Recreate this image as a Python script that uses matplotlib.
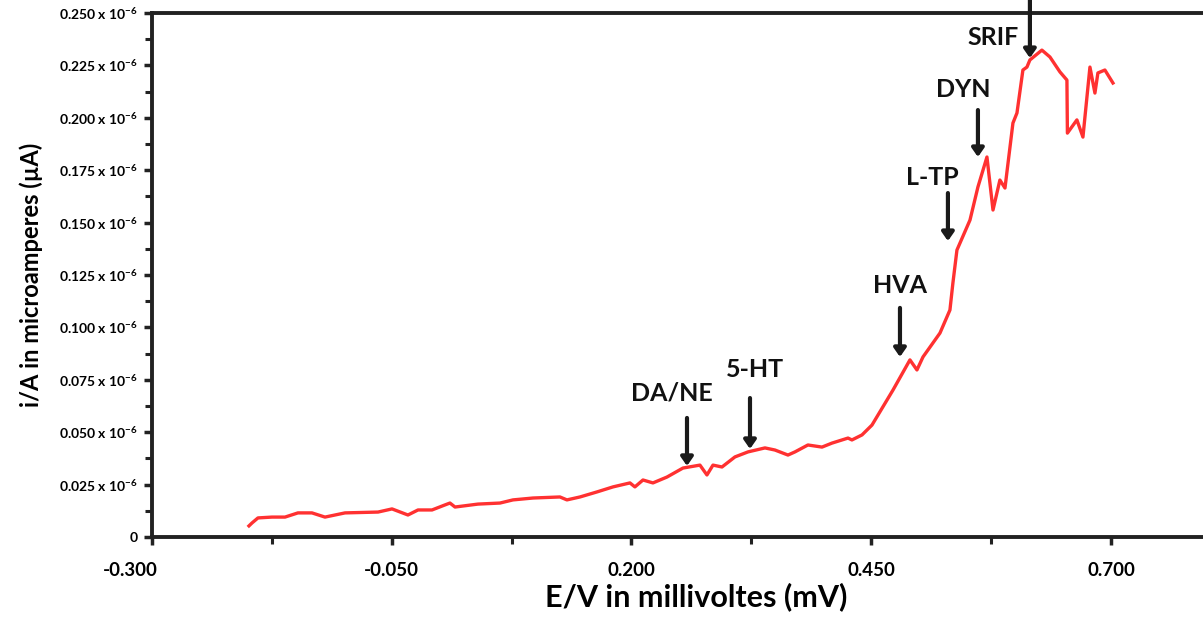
import matplotlib
matplotlib.use("Agg")
import matplotlib.pyplot as plt
import matplotlib.transforms as mtransforms
from matplotlib.ticker import FixedLocator

plt.rcParams['font.family'] = ['Lato', 'DejaVu Sans']
plt.rcParams['font.weight'] = 'bold'
plt.rcParams['mathtext.default'] = 'regular'

# ---- data ----
potential_V = [-0.1989, -0.1957, -0.1895, -0.1749, -0.1613, -0.1478, -0.1332, -0.1196, -0.0987,
               -0.0643, -0.0497, -0.0331, -0.0226, -0.0080, 0.0055, 0.0107, 0.0160, 0.0399,
               0.0629, 0.0764, 0.0973, 0.1254, 0.1327, 0.1463, 0.1640, 0.1807, 0.1984, 0.2036,
               0.2120, 0.2224, 0.2370, 0.2537, 0.2714, 0.2787, 0.2850, 0.2944, 0.3079, 0.3215,
               0.3392, 0.3496, 0.3632, 0.3705, 0.3840, 0.3987, 0.4091, 0.4258, 0.4299, 0.4404,
               0.4508, 0.4727, 0.4904, 0.4977, 0.5040, 0.5217, 0.5321, 0.5352, 0.5394, 0.5530,
               0.5613, 0.5707, 0.5770, 0.5842, 0.5895, 0.5978, 0.6020, 0.6082, 0.6124, 0.6155,
               0.6280, 0.6364, 0.6468, 0.6541, 0.6546, 0.6645, 0.6708, 0.6781, 0.6833, 0.6864,
               0.6937, 0.7021]
current_uA = [0.0053, 0.0067, 0.0091, 0.0095, 0.0095, 0.0115, 0.0115, 0.0095, 0.0115,
              0.0119, 0.0134, 0.0105, 0.0129, 0.0129, 0.0153, 0.0162, 0.0143, 0.0157,
              0.0162, 0.0177, 0.0186, 0.0191, 0.0177, 0.0191, 0.0215, 0.0239, 0.0258, 0.0239,
              0.0272, 0.0258, 0.0286, 0.0329, 0.0343, 0.0296, 0.0343, 0.0334, 0.0382, 0.0406,
              0.0425, 0.0415, 0.0391, 0.0406, 0.0439, 0.0429, 0.0448, 0.0472, 0.0463, 0.0487,
              0.0534, 0.0701, 0.0845, 0.0797, 0.0859, 0.0973, 0.1083, 0.1212, 0.1369, 0.1512,
              0.1670, 0.1813, 0.1560, 0.1703, 0.1665, 0.1975, 0.2023, 0.2228, 0.2242, 0.2276,
              0.2323, 0.2290, 0.2219, 0.2180, 0.1927, 0.1990, 0.1908, 0.2242, 0.2118, 0.2214,
              0.2228, 0.2166]

x_ticks = [-0.300, -0.050, 0.200, 0.450, 0.700]
x_tick_labels = ['-0.300', '-0.050', '0.200', '0.450', '0.700']
y_ticks = [0, 0.025, 0.050, 0.075, 0.100, 0.125, 0.150, 0.175, 0.200, 0.225, 0.250]
y_tick_labels = ['0'] + [f'{v:.3f} x 10$^{{-6}}$' for v in y_ticks[1:]]

peak_labels = ['DA/NE', '5-HT', 'HVA', 'L-TP', 'DYN', 'SRIF']
peak_tip_x = [0.2579, 0.3236, 0.4800, 0.5300, 0.5613, 0.6155]
peak_tip_y = [0.0339, 0.0420, 0.0859, 0.1412, 0.1813, 0.2285]

# ---- layout ----
label_pos = [(0.2422, 0.0687), (0.3288, 0.0797), (0.4800, 0.1202),
             (0.5133, 0.1713), (0.5457, 0.2133), (0.5770, 0.2385)]
arrow_start_y = [0.0568, 0.0663, 0.1093, 0.1641, 0.2037, 0.2562]

fig = plt.figure(figsize=(12.03, 6.17), dpi=100)
ax = fig.add_axes([152 / 1203, 80 / 617, 1 - 152 / 1203, (537 - 13) / 617])

ax.plot(potential_V, current_uA, color='#ff1a1a', lw=2.4, alpha=0.9, solid_joinstyle='round')

ax.set_xlim(-0.300, 0.796)
ax.set_ylim(0, 0.250)

ax.xaxis.set_major_locator(FixedLocator(x_ticks))
ax.set_xticklabels(x_tick_labels, fontsize=13.5, fontweight='bold')
ax.xaxis.set_minor_locator(FixedLocator([-0.175, 0.075, 0.325, 0.575]))
ax.yaxis.set_major_locator(FixedLocator(y_ticks))
ax.set_yticklabels(y_tick_labels, fontsize=10, fontweight='bold')
ax.yaxis.set_minor_locator(FixedLocator([0.0125 + 0.025 * i for i in range(10)]))

for s in ['left', 'bottom', 'top']:
    ax.spines[s].set_linewidth(2.8)
    ax.spines[s].set_color('#222222')
ax.spines['right'].set_visible(False)

ax.tick_params(axis='both', which='major', direction='out', length=6, width=2.5, color='#222222')
ax.tick_params(axis='both', which='minor', direction='out', length=5, width=2.2, color='#222222')
ax.tick_params(axis='x', which='major', pad=12)
ax.tick_params(axis='y', which='major', pad=4)

# first x tick label sits left of its tick in the reference
first = ax.get_xticklabels()[0]
first.set_transform(first.get_transform() + mtransforms.ScaledTranslation(-22 / 100, 0, fig.dpi_scale_trans))

ax.set_xlabel('E/V in millivoltes (mV)', fontsize=22, fontweight='bold', labelpad=2)
ax.xaxis.label.set_x(0.518)
ax.set_ylabel('i/A in microamperes (µA)', fontsize=17, fontweight='bold', labelpad=12)

for lab, (tx, ty), tipx, tipy, sy in zip(peak_labels, label_pos, peak_tip_x, peak_tip_y, arrow_start_y):
    ax.text(tx, ty, lab, fontsize=18, fontweight='bold', ha='center', va='center', color='#111111')
    ax.annotate('', xy=(tipx, tipy), xytext=(tipx, sy), annotation_clip=False,
                arrowprops=dict(arrowstyle='-|>,head_width=0.35,head_length=0.5', lw=3,
                                color='#1a1a1a', mutation_scale=10, shrinkA=0, shrinkB=0))

fig.savefig('out.png', dpi=100)
